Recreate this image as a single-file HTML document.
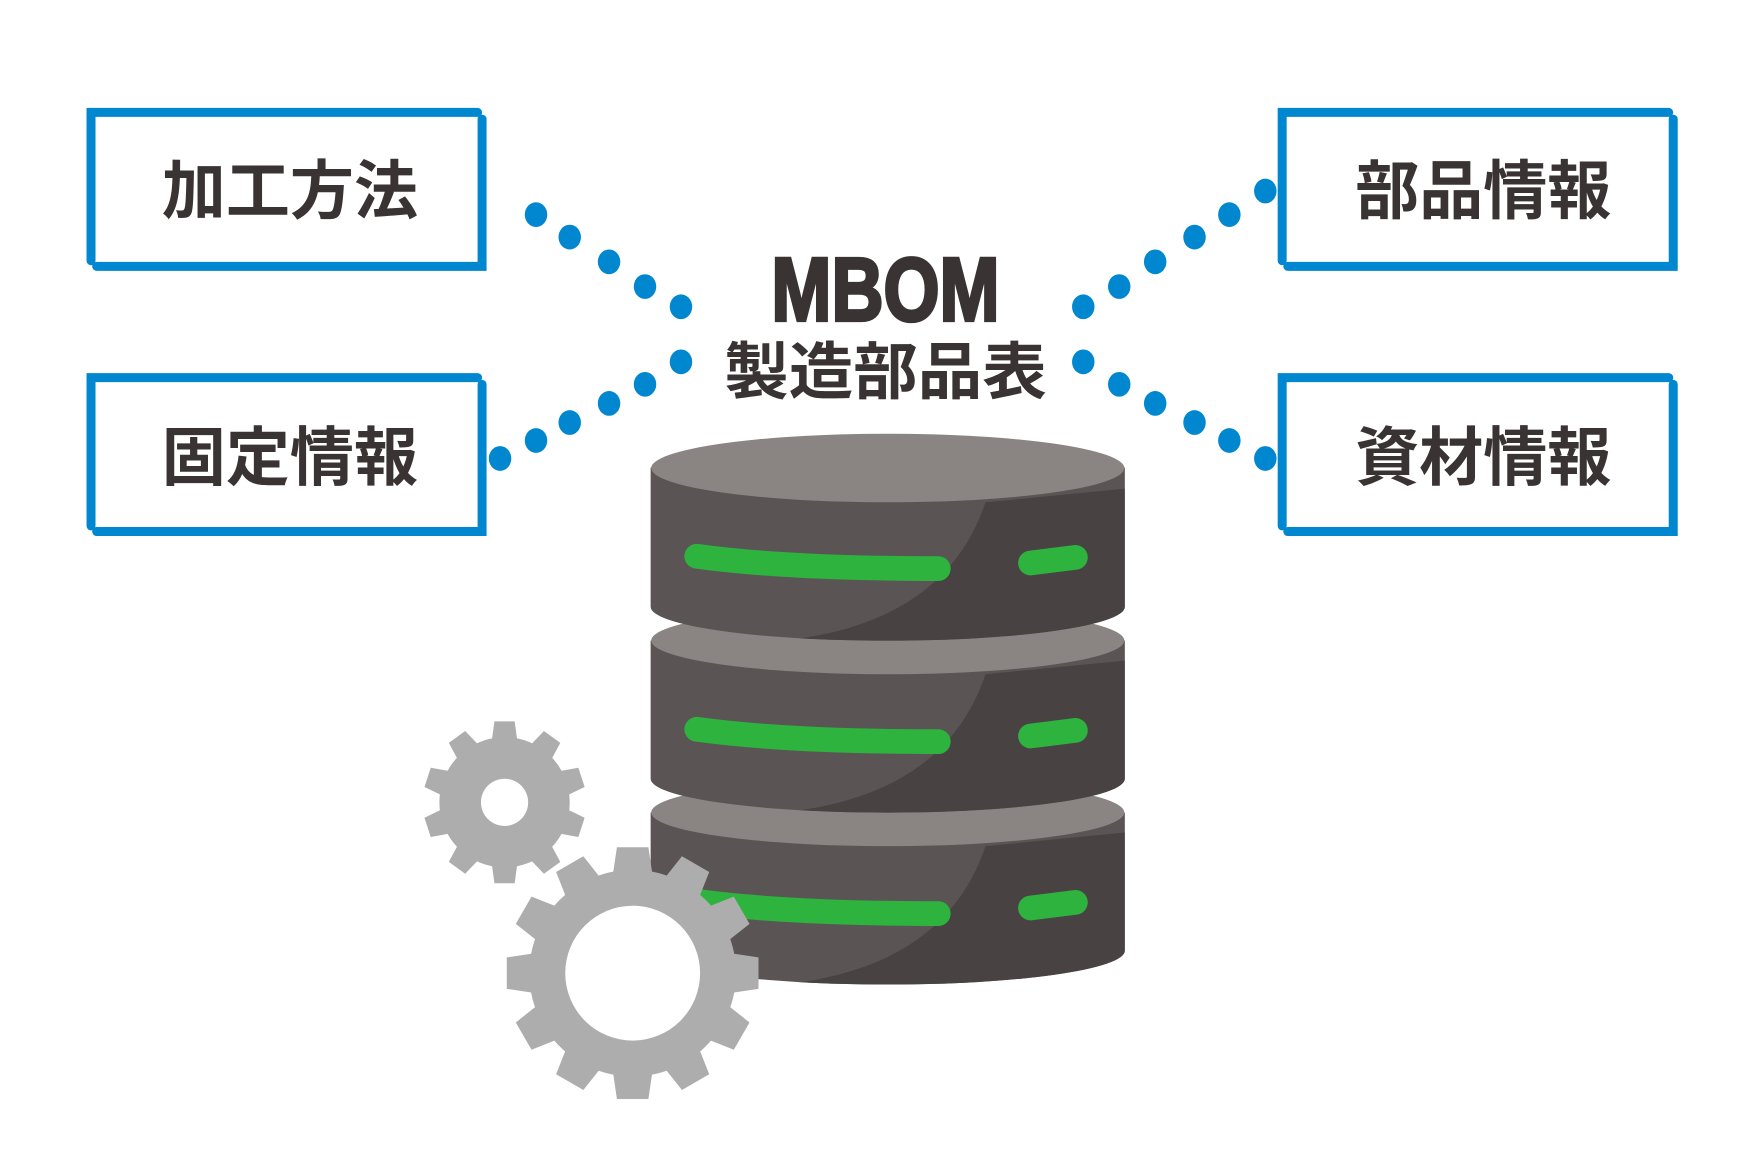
<!DOCTYPE html>
<html><head><meta charset="utf-8"><style>
html,body{margin:0;padding:0;background:#fff;}
svg{display:block;}
text{font-family:"Liberation Sans","Noto Sans CJK JP",sans-serif;font-weight:bold;fill:#3a3333;}
</style></head><body>
<svg width="1762" height="1168" viewBox="0 0 1568 1039.4" preserveAspectRatio="none" xmlns="http://www.w3.org/2000/svg">
<defs>
<g id="box" fill="none" stroke="#0087cf" stroke-width="8" stroke-linecap="round">
<path d="M81 232 V100 H425"/>
<path d="M429 106 V237 H86"/>
</g>
<clipPath id="cs1"><path d="M579 416 V540 A210 30 0 0 0 1001 540 V416 Z"/></clipPath>
<clipPath id="cs2"><path d="M579 570 V693 A210 30 0 0 0 1001 693 V570 Z"/></clipPath>
<clipPath id="cs3"><path d="M579 723 V846 A210 30 0 0 0 1001 846 V723 Z"/></clipPath>
</defs>
<use href="#box"/>
<use href="#box" transform="translate(0,236)"/>
<use href="#box" transform="translate(1060,0)"/>
<use href="#box" transform="translate(1060,236)"/>
<text x="258" y="190" font-size="57" text-anchor="middle">加工方法</text>
<text x="258" y="427" font-size="57" text-anchor="middle">固定情報</text>
<text x="1320" y="190" font-size="57" text-anchor="middle">部品情報</text>
<text x="1320" y="427" font-size="57" text-anchor="middle">資材情報</text>
<text x="788" y="285" font-size="80" text-anchor="middle" textLength="203" lengthAdjust="spacingAndGlyphs" stroke="#3a3333" stroke-width="3">MBOM</text>
<text x="788" y="350" font-size="55" text-anchor="middle" textLength="287" lengthAdjust="spacingAndGlyphs">製造部品表</text>
<g fill="#0087cf">
<ellipse cx="477" cy="191" rx="10" ry="11"/><ellipse cx="507" cy="211" rx="10" ry="11"/><ellipse cx="542" cy="233" rx="10" ry="11"/><ellipse cx="574" cy="255" rx="10" ry="11"/><ellipse cx="606" cy="273" rx="10" ry="11"/>
<ellipse cx="606" cy="322" rx="10" ry="11"/><ellipse cx="574" cy="342" rx="10" ry="11"/><ellipse cx="542" cy="359" rx="10" ry="11"/><ellipse cx="507" cy="376" rx="10" ry="11"/><ellipse cx="477" cy="392" rx="10" ry="11"/><ellipse cx="445" cy="408" rx="10" ry="11"/>
<ellipse cx="964" cy="273" rx="10" ry="11"/><ellipse cx="996" cy="255" rx="10" ry="11"/><ellipse cx="1028" cy="233" rx="10" ry="11"/><ellipse cx="1063" cy="211" rx="10" ry="11"/><ellipse cx="1094" cy="191" rx="10" ry="11"/><ellipse cx="1126" cy="170" rx="10" ry="11"/>
<ellipse cx="964" cy="322" rx="10" ry="11"/><ellipse cx="996" cy="342" rx="10" ry="11"/><ellipse cx="1028" cy="359" rx="10" ry="11"/><ellipse cx="1063" cy="376" rx="10" ry="11"/><ellipse cx="1094" cy="392" rx="10" ry="11"/><ellipse cx="1126" cy="408" rx="10" ry="11"/>
</g>
<g>
<path d="M579 723 V846 A210 30 0 0 0 1001 846 V723 Z" fill="#5a5455"/>
<path clip-path="url(#cs3)" d="M877 753 C850 833 780 873 670 878 L1010 885 L1010 740 Z" fill="#484243"/>
<ellipse cx="790" cy="723" rx="210.5" ry="30" fill="#8a8483"/>
<path d="M620 802 Q700 813 835 813" stroke="#2eb33e" stroke-width="22" stroke-linecap="round" fill="none"/>
<path d="M917 808 L957 803" stroke="#2eb33e" stroke-width="22" stroke-linecap="round" fill="none"/>
</g>
<g>
<path d="M579 570 V693 A210 30 0 0 0 1001 693 V570 Z" fill="#5a5455"/>
<path clip-path="url(#cs2)" d="M877 600 C850 680 780 720 670 725 L1010 732 L1010 587 Z" fill="#484243"/>
<ellipse cx="790" cy="570" rx="210.5" ry="30" fill="#8a8483"/>
<path d="M620 649 Q700 660 835 660" stroke="#2eb33e" stroke-width="22" stroke-linecap="round" fill="none"/>
<path d="M917 655 L957 650" stroke="#2eb33e" stroke-width="22" stroke-linecap="round" fill="none"/>
</g>
<g>
<path d="M579 416 V540 A210 30 0 0 0 1001 540 V416 Z" fill="#5a5455"/>
<path clip-path="url(#cs1)" d="M877 447 C850 527 780 567 670 572 L1010 579 L1010 434 Z" fill="#484243"/>
<ellipse cx="790" cy="416.5" rx="210.5" ry="30.5" fill="#8a8483"/>
<path d="M620 495 Q700 506 835 506" stroke="#2eb33e" stroke-width="22" stroke-linecap="round" fill="none"/>
<path d="M917 501 L957 496" stroke="#2eb33e" stroke-width="22" stroke-linecap="round" fill="none"/>
</g>
<g transform="translate(449,714)" fill="#aeadae">
<circle r="58"/>
<g id="st"><polygon points="-12,-50 12,-50 9,-72 -9,-72"/></g>
<use href="#st" transform="rotate(36)"/><use href="#st" transform="rotate(72)"/><use href="#st" transform="rotate(108)"/><use href="#st" transform="rotate(144)"/><use href="#st" transform="rotate(180)"/><use href="#st" transform="rotate(216)"/><use href="#st" transform="rotate(252)"/><use href="#st" transform="rotate(288)"/><use href="#st" transform="rotate(324)"/>
<circle r="21" fill="#fff"/>
</g>
<g transform="translate(563,866)" fill="#aeadae">
<circle r="92"/>
<g id="bt"><polygon points="-18,-85 18,-85 14,-112 -14,-112"/></g>
<use href="#bt" transform="rotate(30)"/><use href="#bt" transform="rotate(60)"/><use href="#bt" transform="rotate(90)"/><use href="#bt" transform="rotate(120)"/><use href="#bt" transform="rotate(150)"/><use href="#bt" transform="rotate(180)"/><use href="#bt" transform="rotate(210)"/><use href="#bt" transform="rotate(240)"/><use href="#bt" transform="rotate(270)"/><use href="#bt" transform="rotate(300)"/><use href="#bt" transform="rotate(330)"/>
<circle r="60" fill="#fff"/>
</g>
</svg>
</body></html>
